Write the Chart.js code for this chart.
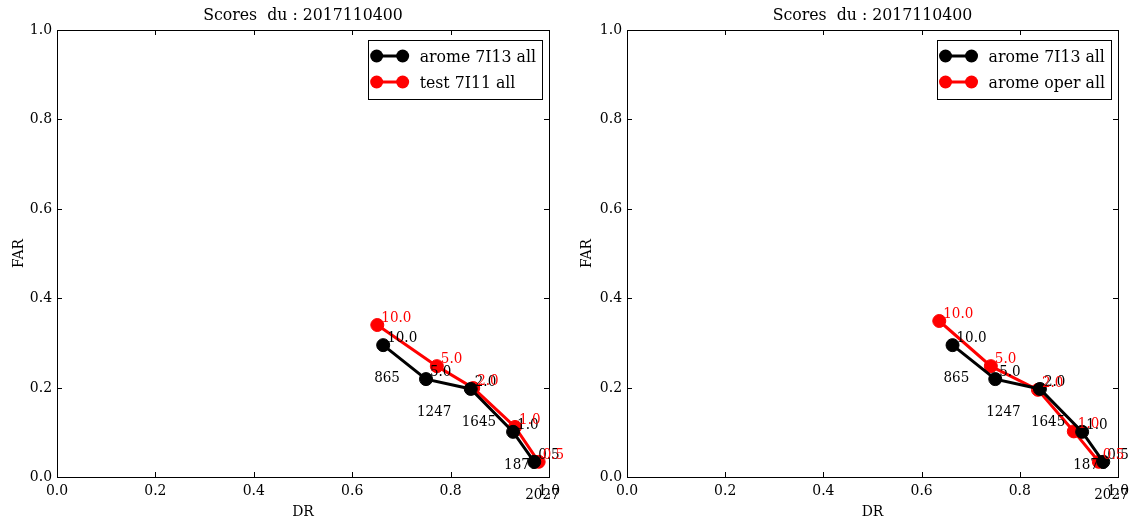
<!DOCTYPE html>
<html>
<head>
<meta charset="utf-8">
<title>Scores du : 2017110400</title>
<script src="https://cdn.jsdelivr.net/npm/chart.js@4"></script>
<style>
  html, body { margin: 0; padding: 0; background: #fff; }
  .panel { position: absolute; top: 0; width: 568px; height: 521px; }
  #left { left: 0; }
  #right { left: 568px; }
</style>
</head>
<body>
<div class="panel" id="left"><canvas id="chart-left" width="568" height="521"></canvas></div>
<div class="panel" id="right"><canvas id="chart-right" width="568" height="521"></canvas></div>
<script>
var runTitle = 'Scores  du : 2017110400';
var axisTicks = [0, 0.2, 0.4, 0.6, 0.8, 1.0];
var thresholds = ['10.0', '5.0', '2.0', '1.0', '0.5'];
var counts = ['865', '1247', '1645', '1871', '2027'];

// arome 7I13 all (same run on both panels)
var dr7I13 = [0.663, 0.750, 0.841, 0.927, 0.970];
var far7I13 = [0.295, 0.219, 0.197, 0.101, 0.034];

// test 7I11 all (left panel)
var drTest = [0.651, 0.772, 0.846, 0.931, 0.979];
var farTest = [0.340, 0.248, 0.199, 0.112, 0.034];

// arome oper all (right panel)
var drOper = [0.636, 0.741, 0.837, 0.910, 0.961];
var farOper = [0.349, 0.248, 0.195, 0.102, 0.034];

var FONT = '"DejaVu Serif Condensed", "DejaVu Serif", serif';

function pairs(xs, ys) {
  return xs.map(function (x, i) {
    return { x: x, y: ys[i] };
  });
}

var frameAndLabels = {
  id: 'frameAndLabels',
  afterDatasetsDraw: function (chart) {
    var ctx = chart.ctx;
    var area = chart.chartArea;
    var xs = chart.scales.x;
    var ys = chart.scales.y;

    ctx.save();
    ctx.strokeStyle = '#000';
    ctx.lineWidth = 1;
    ctx.strokeRect(area.left + 0.5, area.top + 0.5, area.right - area.left, area.bottom - area.top);

    // matplotlib style ticks, inside, on all four sides
    ctx.beginPath();
    axisTicks.forEach(function (v) {
      var px = Math.round(xs.getPixelForValue(v)) + 0.5;
      var py = Math.round(ys.getPixelForValue(v)) + 0.5;
      ctx.moveTo(px, area.bottom);
      ctx.lineTo(px, area.bottom - 5);
      ctx.moveTo(px, area.top);
      ctx.lineTo(px, area.top + 5);
      ctx.moveTo(area.left, py);
      ctx.lineTo(area.left + 5, py);
      ctx.moveTo(area.right, py);
      ctx.lineTo(area.right - 5, py);
    });
    ctx.stroke();

    // threshold + count annotations
    ctx.font = '15px ' + FONT;
    ctx.textAlign = 'left';
    ctx.textBaseline = 'alphabetic';
    chart.data.datasets.forEach(function (ds, i) {
      var meta = chart.getDatasetMeta(i);
      meta.data.forEach(function (pt, j) {
        ctx.fillStyle = ds.borderColor;
        ctx.fillText(thresholds[j], pt.x + 4, pt.y - 3);
        if (i === 0) {
          ctx.fillText(counts[j], pt.x - 9, pt.y + 37);
        }
      });
    });

    // legend box, top right
    ctx.font = '17.5px ' + FONT;
    var textW = 0;
    chart.data.datasets.forEach(function (ds) {
      textW = Math.max(textW, ctx.measureText(ds.label).width);
    });
    var boxRight = area.right - 7;
    var boxTop = area.top + 10;
    var textX = boxRight - 6 - textW;
    var boxLeft = textX - 52;
    ctx.fillStyle = '#fff';
    ctx.fillRect(boxLeft, boxTop, boxRight - boxLeft, 60);
    ctx.strokeStyle = '#000';
    ctx.lineWidth = 1;
    ctx.strokeRect(Math.round(boxLeft) + 0.5, boxTop + 0.5, Math.round(boxRight - boxLeft), 59);

    ctx.textBaseline = 'middle';
    chart.data.datasets.forEach(function (ds, i) {
      var y = boxTop + 16 + i * 26;
      var x1 = textX - 43;
      var x2 = textX - 17;
      ctx.strokeStyle = ds.borderColor;
      ctx.lineWidth = 3;
      ctx.beginPath();
      ctx.moveTo(x1, y);
      ctx.lineTo(x2, y);
      ctx.stroke();
      ctx.fillStyle = ds.backgroundColor;
      [x1, x2].forEach(function (cx) {
        ctx.beginPath();
        ctx.arc(cx, y, 6.5, 0, Math.PI * 2);
        ctx.fill();
      });
      ctx.fillStyle = '#000';
      ctx.fillText(ds.label, textX, y + 1);
    });
    ctx.restore();
  }
};

function makeDataset(label, color, xs, ys) {
  return {
    label: label,
    data: pairs(xs, ys),
    showLine: true,
    borderColor: color,
    backgroundColor: color,
    borderWidth: 3,
    pointRadius: 6.5,
    pointBorderWidth: 1,
    pointBorderColor: color,
    pointBackgroundColor: color
  };
}

function makeAxis(isY, width) {
  return {
    type: 'linear',
    min: 0,
    max: 1,
    afterBuildTicks: function (scale) {
      scale.ticks = axisTicks.map(function (v) { return { value: v }; });
    },
    afterFit: function (scale) {
      if (isY) {
        scale.width = width;
      } else {
        scale.height = 44;
      }
    },
    grid: { display: false, drawTicks: false },
    border: { display: false },
    ticks: {
      color: '#000',
      padding: isY ? 5 : 5,
      font: { family: FONT, size: 15.5 },
      callback: function (v) { return Number(v).toFixed(1); }
    },
    title: {
      display: true,
      text: isY ? 'FAR' : 'DR',
      color: '#000',
      font: { family: FONT, size: 15.5 },
      padding: isY ? { top: 10, bottom: 0 } : { top: 0, bottom: 0 }
    }
  };
}

function makeChart(canvasId, redLabel, redX, redY, yWidth, padRight) {
  var canvas = document.getElementById(canvasId);
  return new Chart(canvas, {
    type: 'scatter',
    data: {
      datasets: [
        makeDataset('arome 7I13 all', '#000000', dr7I13, far7I13),
        makeDataset(redLabel, '#ff0000', redX, redY)
      ]
    },
    options: {
      responsive: false,
      animation: false,
      events: [],
      layout: { padding: { left: 0, right: padRight, top: 0, bottom: 0 } },
      plugins: {
        legend: { display: false },
        tooltip: { enabled: false },
        title: {
          display: true,
          fullSize: false,
          text: runTitle,
          color: '#000',
          font: { family: FONT, size: 17.5, weight: 'normal' },
          padding: { top: 5, bottom: 4 }
        }
      },
      scales: {
        x: makeAxis(false),
        y: makeAxis(true, yWidth)
      }
    },
    plugins: [frameAndLabels]
  });
}

makeChart('chart-left', 'test 7I11 all', drTest, farTest, 57, 19);
makeChart('chart-right', 'arome oper all', drOper, farOper, 59, 18);
</script>
</body>
</html>
